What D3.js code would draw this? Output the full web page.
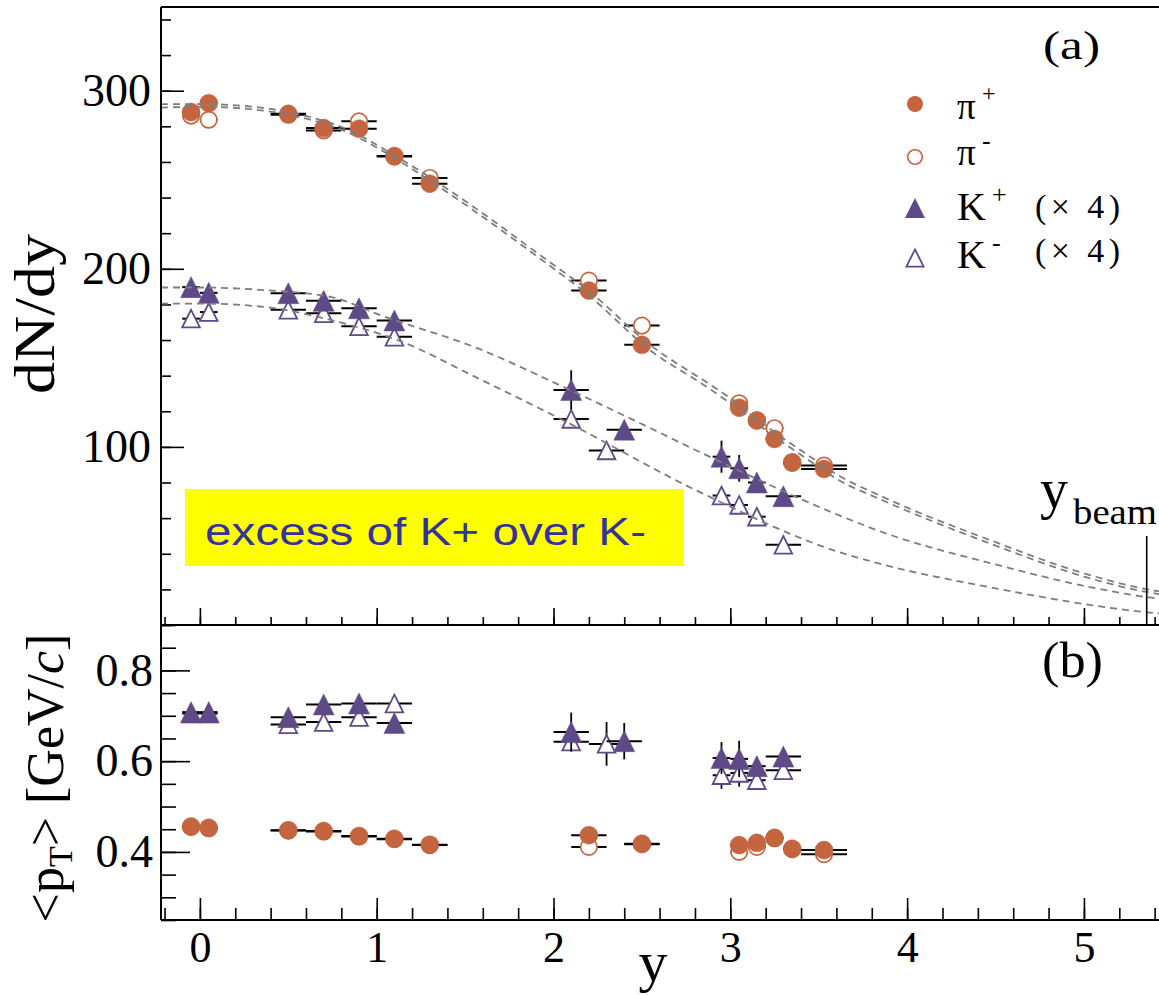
<!DOCTYPE html>
<html>
<head>
<meta charset="utf-8">
<script src="https://cdn.jsdelivr.net/npm/d3@7"></script>
<style>
  html, body { margin: 0; padding: 0; background: #fff; }
  svg { display: block; }
  .serif { font-family: "Liberation Serif", "Times New Roman", Times, serif; }
  .sans { font-family: "Liberation Sans", Arial, Helvetica, sans-serif; }
</style>
</head>
<body>
<svg id="chart" width="1159" height="995"></svg>
<script>
// ---------- measured data ----------
// pions: rapidity bin centres and half-widths
const piRap      = [-0.05, 0.05, 0.5, 0.7, 0.9, 1.1, 1.3, 2.2, 2.5, 3.05, 3.15, 3.25, 3.35, 3.53];
const piRapErr   = [0.05, 0.05, 0.1, 0.1, 0.1, 0.1, 0.1, 0.1, 0.1, 0.05, 0.05, 0.05, 0.05, 0.13];
// dN/dy
const piPlusYield  = [288, 293, 287, 279, 278.7, 263.3, 247.8, 187.8, 157.3, 122, 114.8, 104.5, 91.4, 87.6];
const piMinusYield = [286, 283.7, 286.5, 277.7, 282.8, 263, 251, 193.4, 168.1, 124.5, 115, 110.5, 91, 89.5];
// <pT> (GeV/c)
const piPlusPt  = [0.456, 0.453, 0.448, 0.446, 0.435, 0.429, 0.416, 0.437, 0.418, 0.415, 0.420, 0.431, 0.407, 0.404];
const piMinusPt = [0.455, 0.452, 0.447, 0.445, 0.434, 0.428, 0.415, 0.411, 0.417, 0.400, 0.411, 0.430, 0.406, 0.395];

// kaons (yields multiplied by 4)
const kPlusRap  = [-0.05, 0.05, 0.5, 0.7, 0.9, 1.1, 2.1, 2.4, 2.95, 3.05, 3.15, 3.3];
const kMinusRap = [-0.05, 0.05, 0.5, 0.7, 0.9, 1.1, 2.1, 2.3, 2.95, 3.05, 3.15, 3.3];
const kRapErr   = [0.05, 0.05, 0.1, 0.1, 0.1, 0.1, 0.1, 0.1, 0.05, 0.05, 0.05, 0.1];
const kPlusYield     = [189.7, 186.5, 186.3, 182, 177.8, 171, 132, 109.7, 94.5, 88, 80, 72.3];
const kPlusYieldErr  = [1, 1, 1.5, 1.5, 1.5, 1.5, 11, 3, 9, 7.5, 4, 3];
const kMinusYield    = [172, 175.7, 177, 175, 167.7, 161.8, 115.7, 98, 72.7, 67.4, 60.8, 45];
const kMinusYieldErr = [1, 1, 1.5, 1.5, 1.5, 1.5, 5, 3, 4, 3, 3, 2];
const kPlusPt     = [0.708, 0.708, 0.697, 0.725, 0.727, 0.684, 0.664, 0.644, 0.607, 0.605, 0.589, 0.610];
const kPlusPtErr  = [0.003, 0.003, 0.005, 0.005, 0.005, 0.005, 0.043, 0.04, 0.035, 0.04, 0.02, 0.012];
const kMinusPt    = [0.705, 0.705, 0.681, 0.686, 0.697, 0.727, 0.643, 0.638, 0.569, 0.574, 0.558, 0.580];
const kMinusPtErr = [0.003, 0.003, 0.005, 0.005, 0.005, 0.005, 0.02, 0.048, 0.03, 0.03, 0.02, 0.012];

// fitted rapidity distributions (dashed curves)
const piPlusFitRap  = [-0.22, 0, 0.3, 0.5, 0.85, 1.07, 1.53, 1.92, 2.2, 2.55, 2.87, 3.02, 3.24, 3.43, 3.62, 3.85, 4.5, 5.0, 5.36, 5.45];
const piPlusFit     = [290.5, 291, 289.5, 286.5, 276, 264, 234, 206, 185, 154, 133.5, 123, 106.5, 93.5, 81, 70.5, 44.6, 27.2, 18.4, 17];
const piMinusFitRap = [-0.22, 0, 0.3, 0.5, 0.85, 1.07, 1.53, 1.92, 2.2, 2.55, 2.87, 3.02, 3.24, 3.43, 3.62, 3.85, 4.5, 5.0, 5.36, 5.45];
const piMinusFit    = [292.5, 292.5, 291, 288, 277.5, 265.5, 236, 208, 187.5, 157, 136, 126, 109, 96, 83.5, 72.5, 46.5, 29, 20, 18.5];
const kPlusFitRap   = [-0.22, 0, 0.37, 0.75, 1.02, 1.58, 2.04, 2.4, 2.83, 3.62, 3.85, 4.5, 5.0, 5.36, 5.45];
const kPlusFit      = [189.5, 189.5, 188, 184, 174, 155, 134.4, 117.6, 97, 61.4, 52.5, 34, 22, 15.6, 14.5];
const kMinusFitRap  = [-0.22, 0, 0.37, 0.75, 1.13, 1.58, 2.04, 2.83, 3.62, 3.85, 4.5, 5.0, 5.36, 5.45];
const kMinusFit     = [180.5, 180.5, 178.5, 171, 159.5, 138.2, 115.7, 74.5, 40.8, 34.3, 20.6, 11.8, 7.1, 6.3];

const yBeam = 5.355;

// axis ticks
const xTickValues    = [0, 1, 2, 3, 4, 5];
const xTickLabels    = ["0", "1", "2", "3", "4", "5"];
const dndyTickValues = [100, 200, 300];
const dndyTickLabels = ["100", "200", "300"];
const ptTickValues   = [0.4, 0.6, 0.8];
const ptTickLabels   = ["0.4", "0.6", "0.8"];

// ---------- setup ----------
const svg = d3.select("#chart");
const piColor = "#c4653f";
const kColor = "#5f4a88";
const fitColor = "#7e7e7e";

const x  = d3.scaleLinear().domain([-0.22, 5.45]).range([161, 1163.5]);
const yA = d3.scaleLinear().domain([0, 347]).range([625, 7]);
const yB = d3.scaleLinear().domain([0.25, 0.9]).range([920, 625]);

function stepTicks(a, b, step) {
  const out = [];
  for (let i = 0; a + i * step <= b + 1e-9; i++) out.push(+(a + i * step).toFixed(4));
  return out;
}

// ---------- axes ----------
function styleAxis(g) {
  g.select(".domain").remove();
  g.selectAll(".tick line").attr("stroke", "#000").attr("stroke-width", 1.6);
}
function styleLabels(g, size) {
  g.attr("font-family", null).attr("font-size", null);
  g.selectAll("text").attr("class", "serif").style("font-size", size + "px").attr("fill", "#000");
}

const xLeft = x.range()[0];

// panel (a) left axis
svg.append("g").attr("transform", `translate(${xLeft},0)`)
  .call(d3.axisLeft(yA).tickValues(stepTicks(0, 340, 20)).tickSize(-10).tickFormat(""))
  .call(styleAxis);
svg.append("g").attr("transform", `translate(${xLeft},0)`)
  .call(d3.axisLeft(yA).tickValues(dndyTickValues).tickSize(-23).tickPadding(10)
    .tickFormat((d, i) => dndyTickLabels[i]))
  .call(styleAxis)
  .call(styleLabels, 46);

// panel (b) left axis
svg.append("g").attr("transform", `translate(${xLeft},0)`)
  .call(d3.axisLeft(yB).tickValues(stepTicks(0.25, 0.9, 0.05)).tickSize(-15).tickFormat(""))
  .call(styleAxis);
svg.append("g").attr("transform", `translate(${xLeft},0)`)
  .call(d3.axisLeft(yB).tickValues(ptTickValues).tickSize(-29).tickPadding(8)
    .tickFormat((d, i) => ptTickLabels[i]))
  .call(styleAxis)
  .call(styleLabels, 46);

// panel (a) x axis (no labels)
svg.append("g").attr("transform", `translate(0,${yA(0)})`)
  .call(d3.axisBottom(x).tickValues(stepTicks(-0.2, 5.4, 0.2)).tickSize(-8).tickFormat(""))
  .call(styleAxis);
svg.append("g").attr("transform", `translate(0,${yA(0)})`)
  .call(d3.axisBottom(x).tickValues(xTickValues).tickSize(-17).tickFormat(""))
  .call(styleAxis);

// panel (b) x axis
svg.append("g").attr("transform", `translate(0,${yB(0.25)})`)
  .call(d3.axisBottom(x).tickValues(stepTicks(-0.2, 5.4, 0.2)).tickSize(-12).tickFormat(""))
  .call(styleAxis);
svg.append("g").attr("transform", `translate(0,${yB(0.25)})`)
  .call(d3.axisBottom(x).tickValues(xTickValues).tickSize(-22).tickPadding(11)
    .tickFormat((d, i) => xTickLabels[i]))
  .call(styleAxis)
  .call(styleLabels, 44);

// frame
const frame = svg.append("g").attr("stroke", "#000").attr("stroke-width", 2).attr("fill", "none");
frame.append("line").attr("x1", xLeft).attr("x2", 1159).attr("y1", yA(347)).attr("y2", yA(347));
frame.append("line").attr("x1", xLeft).attr("x2", xLeft).attr("y1", yA(347)).attr("y2", yB(0.25));
frame.append("line").attr("x1", xLeft).attr("x2", 1159).attr("y1", yA(0)).attr("y2", yA(0));
frame.append("line").attr("x1", xLeft).attr("x2", 1159).attr("y1", yB(0.25)).attr("y2", yB(0.25));

// ---------- marks ----------
const plot = svg.append("g");

function errorBars(rap, rapErr, val, valErr, yScale) {
  const g = plot.append("g").attr("stroke", "#000").attr("fill", "none");
  rap.forEach((r, i) => {
    g.append("line")
      .attr("x1", x(r - rapErr[i])).attr("x2", x(r + rapErr[i]))
      .attr("y1", yScale(val[i])).attr("y2", yScale(val[i]))
      .attr("stroke-width", 2);
    if (valErr) {
      g.append("line")
        .attr("x1", x(r)).attr("x2", x(r))
        .attr("y1", yScale(val[i] - valErr[i])).attr("y2", yScale(val[i] + valErr[i]))
        .attr("stroke-width", 1.8);
    }
  });
}

const triPath = s => `M0,${-s}L${s},${s}L${-s},${s}Z`;

function circles(rap, val, yScale, open) {
  plot.append("g").selectAll("circle").data(rap).join("circle")
    .attr("cx", d => x(d)).attr("cy", (d, i) => yScale(val[i]))
    .attr("r", open ? 8.2 : 9)
    .attr("fill", open ? "#fff" : piColor)
    .attr("stroke", piColor).attr("stroke-width", open ? 1.7 : 0.5);
}

function triangles(rap, val, yScale, open) {
  const s = open ? 8.8 : 10.5;
  plot.append("g").selectAll("path").data(rap).join("path")
    .attr("d", triPath(s))
    .attr("transform", (d, i) => `translate(${x(d)},${yScale(val[i])})`)
    .attr("fill", open ? "#fff" : kColor)
    .attr("stroke", kColor).attr("stroke-width", open ? 1.8 : 0.5)
    .attr("stroke-linejoin", "miter");
}

// panel (a)
errorBars(kMinusRap, kRapErr, kMinusYield, kMinusYieldErr, yA);
triangles(kMinusRap, kMinusYield, yA, true);
errorBars(kPlusRap, kRapErr, kPlusYield, kPlusYieldErr, yA);
triangles(kPlusRap, kPlusYield, yA, false);
errorBars(piRap, piRapErr, piMinusYield, null, yA);
circles(piRap, piMinusYield, yA, true);
errorBars(piRap, piRapErr, piPlusYield, null, yA);
circles(piRap, piPlusYield, yA, false);

// panel (b)
errorBars(kMinusRap, kRapErr, kMinusPt, kMinusPtErr, yB);
triangles(kMinusRap, kMinusPt, yB, true);
errorBars(kPlusRap, kRapErr, kPlusPt, kPlusPtErr, yB);
triangles(kPlusRap, kPlusPt, yB, false);
errorBars(piRap, piRapErr, piMinusPt, null, yB);
circles(piRap, piMinusPt, yB, true);
errorBars(piRap, piRapErr, piPlusPt, null, yB);
circles(piRap, piPlusPt, yB, false);

// fitted curves on top of the points
const fitLine = d3.line().x(d => x(d[0])).y(d => yA(d[1])).curve(d3.curveMonotoneX);
const fits = [
  [piPlusFitRap, piPlusFit],
  [piMinusFitRap, piMinusFit],
  [kPlusFitRap, kPlusFit],
  [kMinusFitRap, kMinusFit]
];
svg.append("clipPath").attr("id", "clipA").append("rect")
  .attr("x", xLeft + 1).attr("y", yA(347)).attr("width", 1159 - xLeft).attr("height", yA(0) - yA(347));
const fitG = svg.append("g").attr("clip-path", "url(#clipA)");
fits.forEach(([r, v]) => {
  fitG.append("path")
    .attr("d", fitLine(r.map((d, i) => [d, v[i]])))
    .attr("fill", "none").attr("stroke", fitColor)
    .attr("stroke-width", 1.8).attr("stroke-dasharray", "7,5");
});

// beam rapidity marker
svg.append("line")
  .attr("x1", x(yBeam)).attr("x2", x(yBeam))
  .attr("y1", yA(50)).attr("y2", yA(0))
  .attr("stroke", "#000").attr("stroke-width", 1.6);
const beamLbl = svg.append("text").attr("class", "serif").attr("fill", "#000");
beamLbl.append("tspan").attr("x", 1040).attr("y", 508).style("font-size", "56px").text("y");
beamLbl.append("tspan").attr("x", 1073).attr("y", 524).style("font-size", "36px")
  .attr("textLength", 84).attr("lengthAdjust", "spacingAndGlyphs").text("beam");

// ---------- annotations ----------
svg.append("rect").attr("x", 185).attr("y", 489).attr("width", 499).attr("height", 77).attr("fill", "#ffff00");
svg.append("text").attr("class", "sans").attr("x", 205).attr("y", 545)
  .style("font-size", "39px").attr("fill", "#333399")
  .attr("textLength", 441).attr("lengthAdjust", "spacingAndGlyphs")
  .text("excess of K+ over K-");

svg.append("text").attr("class", "serif").attr("x", 1043).attr("y", 59).style("font-size", "40px")
  .attr("textLength", 57).attr("lengthAdjust", "spacingAndGlyphs").text("(a)");
svg.append("text").attr("class", "serif").attr("x", 1042).attr("y", 677).style("font-size", "50px")
  .attr("textLength", 61).attr("lengthAdjust", "spacingAndGlyphs").text("(b)");

// axis titles
svg.append("text").attr("class", "serif").attr("x", 653).attr("y", 981).attr("text-anchor", "middle")
  .style("font-size", "58px").text("y");

svg.append("text").attr("class", "serif").attr("transform", "translate(54,314) rotate(-90)")
  .attr("text-anchor", "middle").style("font-size", "58px")
  .attr("textLength", 160).attr("lengthAdjust", "spacingAndGlyphs")
  .text("dN/dy");

const ptTitle = svg.append("text").attr("class", "serif").attr("transform", "translate(63,778) rotate(-90)")
  .attr("text-anchor", "middle").style("font-size", "52px");
ptTitle.append("tspan").text("<p");
ptTitle.append("tspan").style("font-size", "34px").attr("dy", 9).text("T");
ptTitle.append("tspan").attr("dy", -9).text("> [GeV/");
ptTitle.append("tspan").attr("font-style", "italic").text("c");
ptTitle.append("tspan").text("]");

// ---------- legend ----------
const leg = svg.append("g");
leg.append("circle").attr("cx", 915).attr("cy", 104).attr("r", 8).attr("fill", piColor);
leg.append("circle").attr("cx", 915).attr("cy", 157).attr("r", 7.3).attr("fill", "#fff")
  .attr("stroke", piColor).attr("stroke-width", 1.6);
leg.append("path").attr("d", triPath(10)).attr("transform", "translate(915,208)").attr("fill", kColor);
leg.append("path").attr("d", triPath(8.6)).attr("transform", "translate(915,258)").attr("fill", "#fff")
  .attr("stroke", kColor).attr("stroke-width", 1.8);

const legText = (xx, yy, size, str) => leg.append("text").attr("class", "serif")
  .attr("x", xx).attr("y", yy).style("font-size", size + "px").attr("fill", "#000").text(str);
legText(957, 119, 37, "π");
legText(982, 101, 24, "+");
legText(957, 165, 37, "π");
legText(982, 149, 26, "-");
legText(957, 220, 40, "K");
legText(992, 203, 26, "+");
legText(1035, 218, 34, "(× 4)").attr("textLength", 85).attr("lengthAdjust", "spacing");
legText(957, 268, 40, "K");
legText(992, 251, 26, "-");
legText(1035, 262, 34, "(× 4)").attr("textLength", 85).attr("lengthAdjust", "spacing");
</script>
</body>
</html>
